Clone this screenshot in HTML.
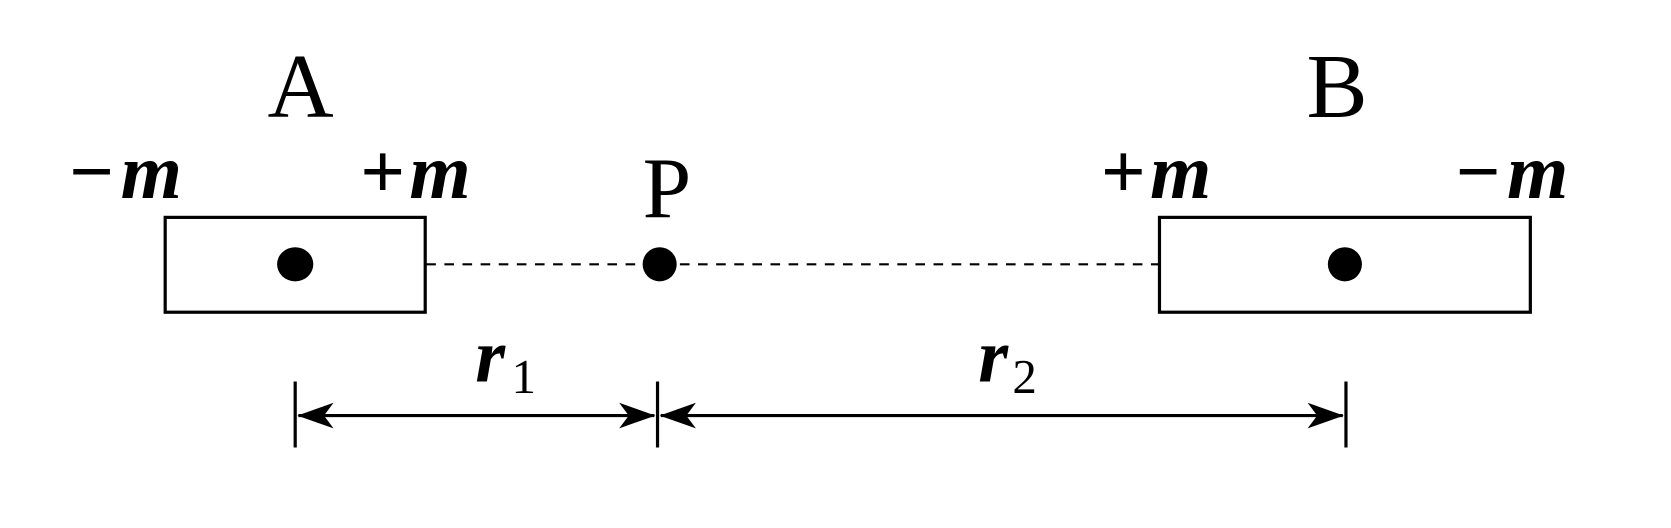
<!DOCTYPE html>
<html><head><meta charset="utf-8"><style>html,body{margin:0;padding:0;background:#fff}svg{display:block}</style></head>
<body>
<svg width="1671" height="528" viewBox="0 0 1568 495.5" preserveAspectRatio="none" xmlns="http://www.w3.org/2000/svg">
<g fill="none" stroke="#000" stroke-width="3">
<rect x="155" y="204" width="244" height="89"/>
<rect x="1088" y="204" width="348" height="89"/>
</g>
<line x1="400" y1="248" x2="1088" y2="248" stroke="#000" stroke-width="2" stroke-dasharray="9,8"/>
<g fill="#000">
<ellipse cx="277" cy="248" rx="17" ry="16"/>
<ellipse cx="619" cy="248" rx="16" ry="16"/>
<ellipse cx="1262" cy="248" rx="16" ry="16"/>
</g>
<g stroke="#000" stroke-width="3">
<line x1="277" y1="358" x2="277" y2="420"/>
<line x1="617" y1="358" x2="617" y2="420"/>
<line x1="1263" y1="358" x2="1263" y2="420"/>
<line x1="280" y1="390" x2="614" y2="390"/>
<line x1="620" y1="390" x2="1260" y2="390"/>
</g>
<g fill="#000">
<path d="M279,390 L313,378 L304,390 L313,402 Z"/>
<path d="M615,390 L581,378 L590,390 L581,402 Z"/>
<path d="M619,390 L653,378 L644,390 L653,402 Z"/>
<path d="M1261,390 L1227,378 L1236,390 L1227,402 Z"/>
</g>
<g font-family="Liberation Serif, serif" fill="#000">
<text x="251" y="110" font-size="86">A</text>
<text x="1226" y="110" font-size="86">B</text>
<text x="603" y="204" font-size="82">P</text>
<g font-size="74" font-weight="bold"><text x="65" y="186">−<tspan font-style="italic" dx="6">m</tspan></text>
<text x="338" y="186">+<tspan font-style="italic" dx="4">m</tspan></text>
<text x="1033" y="186">+<tspan font-style="italic" dx="4">m</tspan></text>
<text x="1366" y="186">−<tspan font-style="italic" dx="6">m</tspan></text></g>
<text x="446" y="358" font-size="72" font-style="italic" font-weight="bold">r</text>
<text x="480" y="369" font-size="46">1</text>
<text x="918" y="358" font-size="72" font-style="italic" font-weight="bold">r</text>
<text x="950" y="369" font-size="46">2</text>
</g>
</svg>
</body></html>
